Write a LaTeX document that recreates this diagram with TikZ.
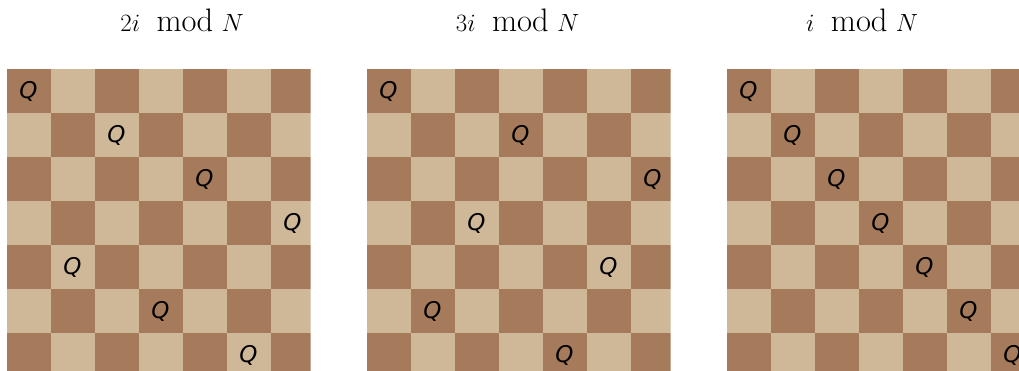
\documentclass[tikz,border=0pt]{standalone}
\usepackage{amsmath}
\usepackage{fontspec}
\newfontfamily\qfont{DejaVu Sans}
\definecolor{darksq}{HTML}{A67B5B}
\definecolor{lightsq}{HTML}{CEB898}
\begin{document}
\begin{tikzpicture}[x=1pt,y=-1pt,
  title/.style={anchor=base,inner sep=0pt,font=\fontsize{32.5}{39}\selectfont},
  queen/.style={inner sep=0pt,text=black,font=\qfont\itshape\fontsize{23}{27}\selectfont}]
\useasboundingbox (0,0) rectangle (1019,370);
\foreach \bx/\m/\t/\tx [count=\k] in {7/2/{$2i \mod N$}/182, 367/3/{$3i \mod N$}/517.5, 727/1/{$i \mod N$}/862} {
  \node[title] (title\k) at (\tx,31) {\t};
  \begin{scope}
    \clip (\bx,69) rectangle ++(303.5,301);
    \foreach \r in {0,...,6} {
      \foreach \c in {0,...,6} {
        \pgfmathtruncatemacro\s{\r+\c}
        \ifodd\s \def\sqcol{lightsq}\else\def\sqcol{darksq}\fi
        \fill[\sqcol] ({\bx+\c*44},{69+\r*44}) rectangle ++(44,44);
      }
    }
    \foreach \r in {0,...,6} {
      \pgfmathtruncatemacro\qc{mod(\m*\r,7)}
      \node[queen] (q\k-\r) at ({\bx+\qc*44+21.5},{69+\r*44+22}) {Q};
    }
  \end{scope}
}
\end{tikzpicture}
\end{document}
